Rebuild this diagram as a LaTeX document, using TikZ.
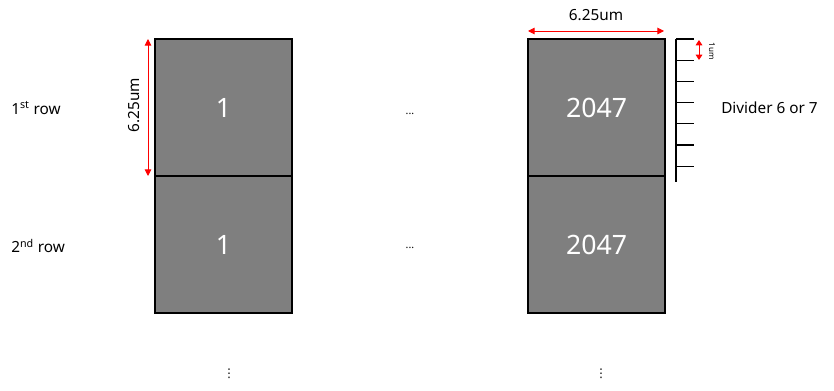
\documentclass[tikz,border=0pt]{standalone}
\usepackage{fontspec}
\setmainfont{Noto Sans}
\newfontfamily\symfont{DejaVu Sans}
\usetikzlibrary{arrows.meta, positioning}
\definecolor{cellgray}{HTML}{7F7F7F}
\tikzset{
    cell/.style={
        rectangle, draw=black, fill=cellgray, line width=0.8pt,
        minimum width=102.75pt, minimum height=102.75pt,
        inner sep=0pt, outer sep=0pt,
        text=white, font=\fontsize{20}{24}\selectfont
    },
    label/.style={font=\fontsize{11.5}{13}\selectfont, inner sep=0pt},
    dots/.style={font=\fontsize{8}{9}\selectfont, inner sep=0pt},
    vdots/.style={font=\symfont\fontsize{9}{10}\selectfont, inner sep=0pt},
    dim/.style={red, line width=0.7pt, {Triangle[length=5pt,width=5pt]}-{Triangle[length=5pt,width=5pt]}}
}

\begin{document}
\begin{tikzpicture}[x=0.75pt, y=-0.75pt]
    \useasboundingbox (0,0) rectangle (834,391);

    % Pixel cells, two rows
    \node[cell] (r1a) at (223.5,107.5) {1};
    \node[cell] (r2a) at (223.5,244.5) {1};
    \node[cell] (r1b) at (596.5,107.5) {2047};
    \node[cell] (r2b) at (596.5,244.5) {2047};

    \node[label, anchor=west] (row1) at (11,108) {1\textsuperscript{st} row};
    \node[label, anchor=west] (row2) at (11,246) {2\textsuperscript{nd} row};

    \node[dots] (h1) at (410,114) {...};
    \node[dots] (h2) at (410,248) {...};
    \node[vdots] (v1) at (229,374) {⋮};
    \node[vdots] (v2) at (601,374) {⋮};

    % Cell size
    \coordinate (lt) at (148,39);
    \coordinate (lb) at (148,176);
    \draw[dim] (lt) -- (lb);
    \node[label, rotate=90] (lh) at (134,105) {6.25um};

    \coordinate (tl) at (528,31);
    \coordinate (tr) at (664,31);
    \draw[dim] (tl) -- (tr);
    \node[label] (lw) at (596,15) {6.25um};

    % Divider scale
    \draw[line width=0.8pt] (676,39) -- (676,182);
    \foreach \k in {0,...,6} {
        \draw[line width=0.8pt] (676,39+21.2*\k) -- (694,39+21.2*\k);
    }
    \coordinate (st) at (699,40);
    \coordinate (sb) at (699,60);
    \draw[red, line width=0.7pt, {Triangle[length=4pt,width=5pt]}-{Triangle[length=4pt,width=5pt]}] (st) -- (sb);
    \node[font=\fontsize{6}{7}\selectfont, rotate=-90, inner sep=0pt] (lu) at (712,51) {1um};

    \node[label, anchor=west] (div) at (721,108) {Divider 6 or 7};
\end{tikzpicture}
\end{document}
